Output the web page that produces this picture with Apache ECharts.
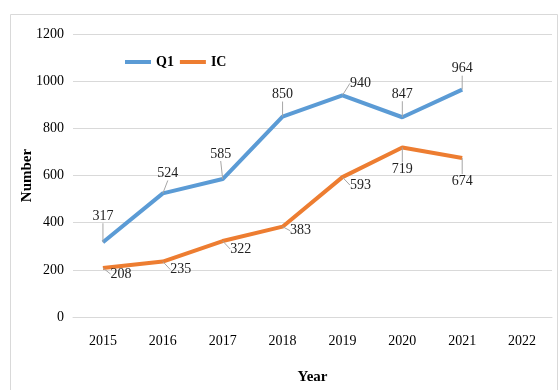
<!DOCTYPE html>
<html><head><meta charset="utf-8">
<script src="https://cdn.jsdelivr.net/npm/echarts@6/dist/echarts.min.js"></script>
<style>html,body{margin:0;padding:0;background:#fff}#c{width:560px;height:390px}</style>
</head><body><div id="c"></div>
<script>
var years = ['2015','2016','2017','2018','2019','2020','2021','2022'];
var q1 = [317, 524, 585, 850, 940, 847, 964, null];
var ic = [208, 235, 322, 383, 593, 719, 674, null];
var yTicks = [0, 200, 400, 600, 800, 1000, 1200];
// label offsets (dx, dy) from point
var q1Off = [[0,-26],[5,-20],[-2,-25],[0,-22],[18,-12],[0,-23],[0,-21]];
var icOff = [[18,6],[18,8],[18,8],[18,4],[18,8],[0,22],[0,23]];
var font = 'Liberation Serif';
var chart = echarts.init(document.getElementById('c'));
function layoutFor(offs){
  return function(p){
    var o = offs[p.dataIndex] || [0,0];
    return {dx: o[0], dy: o[1]};
  };
}
chart.setOption({
  animation: false,
  textStyle: {fontFamily: font},
  graphic: [{type:'rect', shape:{x:10.5,y:14.5,width:547,height:380}, style:{fill:'none', stroke:'#d9d9d9', lineWidth:1}, silent:true}],
  legend: {
    left: 120, top: 50, itemWidth: 26, itemHeight: 4, itemGap: 6,
    icon: 'rect',
    textStyle: {fontFamily: font, fontWeight: 'bold', fontSize: 14, color: '#000'},
    data: ['Q1','IC']
  },
  grid: {left: 73, right: 8, top: 34, bottom: 72, containLabel: false},
  xAxis: {
    type: 'category', data: years, boundaryGap: true,
    name: 'Year', nameLocation: 'middle', nameGap: 53, nameMoveOverlap: false,
    nameTextStyle: {fontFamily: font, fontWeight: 'bold', fontSize: 15, color: '#000'},
    axisLine: {show: true, lineStyle: {color: '#d9d9d9'}},
    axisTick: {show: false},
    axisLabel: {fontFamily: font, fontSize: 14, color: '#000', margin: 17}
  },
  yAxis: {
    type: 'value', min: 0, max: 1200, interval: 200,
    name: 'Number', nameLocation: 'middle', nameGap: 38, nameMoveOverlap: false,
    nameTextStyle: {fontFamily: font, fontWeight: 'bold', fontSize: 15, color: '#000'},
    axisLine: {show: false}, axisTick: {show: false},
    splitLine: {lineStyle: {color: '#d9d9d9'}},
    axisLabel: {fontFamily: font, fontSize: 14, color: '#000', margin: 9,
      formatter: function(v){ return yTicks.indexOf(v) >= 0 ? String(v) : ''; }}
  },
  series: [
    {name: 'Q1', type: 'line', data: q1, showSymbol: true, symbol: 'circle', symbolSize: 0.01,
     lineStyle: {color: '#5B9BD5', width: 4}, itemStyle: {color: '#5B9BD5'},
     label: {show: true, position: 'inside', fontFamily: font, fontSize: 14, color: '#222'},
     labelLine: {show: true, lineStyle: {color: '#a6a6a6', width: 1}},
     labelLayout: layoutFor(q1Off)},
    {name: 'IC', type: 'line', data: ic, showSymbol: true, symbol: 'circle', symbolSize: 0.01,
     lineStyle: {color: '#ED7D31', width: 4}, itemStyle: {color: '#ED7D31'},
     label: {show: true, position: 'inside', fontFamily: font, fontSize: 14, color: '#222'},
     labelLine: {show: true, lineStyle: {color: '#a6a6a6', width: 1}},
     labelLayout: layoutFor(icOff)}
  ]
});
</script></body></html>
